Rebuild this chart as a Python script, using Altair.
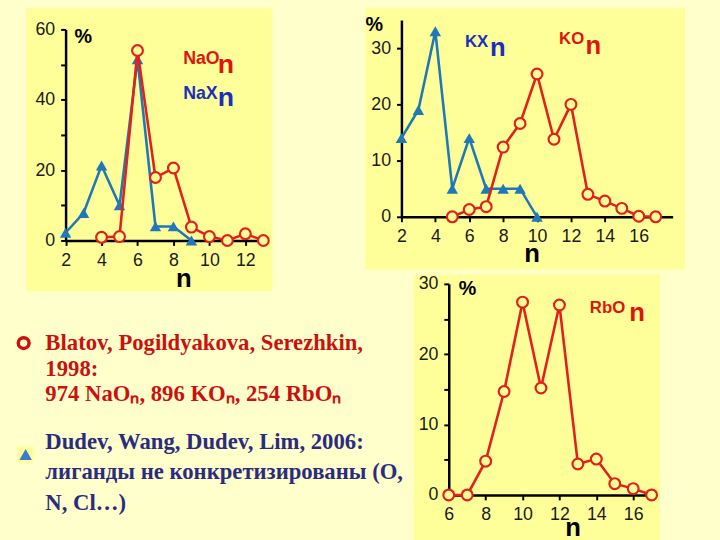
import altair as alt
import pandas as pd

# ---------------- data ----------------
na_o_n = [4, 5, 6, 7, 8, 9, 10, 11, 12, 13]
na_o_pct = [0.9, 1.1, 54.0, 17.9, 20.6, 3.8, 1.1, 0.0, 1.9, 0.0]
na_x_n = [2, 3, 4, 5, 6, 7, 8, 9]
na_x_pct = [2.2, 7.8, 21.3, 10.0, 51.5, 4.0, 4.0, 0.0]

k_o_n = [5, 6, 7, 8, 9, 10, 11, 12, 13, 14, 15, 16, 17]
k_o_pct = [0.0, 1.3, 1.8, 12.4, 16.6, 25.4, 13.8, 20.0, 4.0, 2.8, 1.5, 0.1, 0.0]
k_x_n = [2, 3, 4, 5, 6, 7, 8, 9, 10]
k_x_pct = [14.0, 19.0, 33.0, 5.0, 14.0, 5.0, 5.0, 5.0, 0.0]

rb_o_n = [6, 7, 8, 9, 10, 11, 12, 13, 14, 15, 16, 17]
rb_o_pct = [0.0, 0.0, 4.8, 14.7, 27.4, 15.2, 27.0, 4.4, 5.1, 1.6, 0.9, 0.0]

x_ticks_na = [2, 3, 4, 5, 6, 7, 8, 9, 10, 11, 12, 13]
x_ticks_k = [2, 3, 4, 5, 6, 7, 8, 9, 10, 11, 12, 13, 14, 15, 16, 17]
x_ticks_rb = [6, 7, 8, 9, 10, 11, 12, 13, 14, 15, 16, 17]
y_ticks_na = [0, 10, 20, 30, 40, 50, 60]
y_ticks_k = [0, 5, 10, 15, 20, 25, 30, 35]
y_ticks_rb = [0, 5, 10, 15, 20, 25, 30]

blatov_lines = ["Blatov, Pogildyakova, Serezhkin,",
                "1998:",
                "974 NaOₙ, 896 KOₙ, 254 RbOₙ"]
dudev_lines = ["Dudev, Wang, Dudev, Lim, 2006:",
               "лиганды не конкретизированы (O,",
               "N, Cl…)"]

# ---------------- styles ----------------
PAGE = "#FFFFCC"
PANEL = "#FFFF99"
RED = "#E3201B"
BLUE = "#1F78B8"
RED_TXT = "#E0140F"
BLUE_TXT = "#1A2FC0"
LEG_RED = "#CC1010"
LEG_NAVY = "#2B2B80"
SANS = "Liberation Sans"
SERIF = "Liberation Serif"


def panel_layers(red_n, red_v, blue_n, blue_v, xdom, xrng, ydom, yrng, xticks,
                 yticks, ystep, h, pct_pos, n_pos, labels):
    x_axis = alt.Axis(values=xticks,
                      labelExpr="datum.value % 2 == 0 ? datum.label : ''",
                      offset=-(h - yrng[0]), title="n", titleX=n_pos[0],
                      titleY=n_pos[1], titleFontSize=26)
    y_axis = alt.Axis(values=yticks,
                      labelExpr=f"datum.value % {ystep} == 0 ? datum.label : ''",
                      offset=-xrng[0], title="%", titleX=pct_pos[0],
                      titleY=pct_pos[1], titleFontSize=20, titleAngle=0)
    X = alt.X("n:Q", scale=alt.Scale(domain=xdom, range=xrng), axis=x_axis)
    Y = alt.Y("v:Q", scale=alt.Scale(domain=ydom, range=yrng), axis=y_axis)
    layers = []
    if blue_n is not None:
        bdf = pd.DataFrame({"n": blue_n, "v": blue_v})
        base_b = alt.Chart(bdf).encode(x=X, y=Y)
        layers.append(base_b.mark_line(color=BLUE, strokeWidth=2.6))
        layers.append(base_b.mark_point(shape="triangle-up", filled=True,
                                        color=BLUE, size=135, opacity=1))
    rdf = pd.DataFrame({"n": red_n, "v": red_v})
    base_r = alt.Chart(rdf).encode(x=X, y=Y)
    layers.append(base_r.mark_line(color=RED, strokeWidth=2.6))
    layers.append(base_r.mark_point(shape="circle", filled=True, fill=PANEL,
                                    stroke=RED, strokeWidth=2.2, size=120,
                                    opacity=1))
    for txt, lx, ly, size, color in labels:
        layers.append(
            alt.Chart().mark_text(align="left", baseline="alphabetic",
                                  font=SANS, fontWeight="bold", fontSize=size,
                                  color=color)
            .encode(x=alt.datum(lx), y=alt.datum(ly), text=alt.value(txt))
        )
    return alt.layer(*layers)


VIEW_PANEL = alt.ViewBackground(fill=PANEL, stroke="transparent")


def spacer(w, h, fill=PAGE):
    return alt.Chart(pd.DataFrame({"z": [0]})).mark_point(opacity=0).encode(
        x=alt.value(0), y=alt.value(0)
    ).properties(width=w, height=h,
                 view=alt.ViewBackground(fill=fill, stroke="transparent"))


# ---------------- citation text (drawn below the Na panel) ----------------
cit_df = pd.DataFrame({"para": [0, 1], "txt": [blatov_lines, dudev_lines],
                       "grp": ["blatov", "dudev"]})
PY = alt.Y("para:Q", scale=alt.Scale(domain=[0, 1], range=[347, 447]),
           axis=None)
cit_base = alt.Chart(cit_df).encode(y=PY)
txt_style = dict(align="left", baseline="alphabetic", font=SERIF,
                 fontWeight="bold", fontSize=23)
cit_red = cit_base.transform_filter("datum.grp == 'blatov'").mark_text(
    color=LEG_RED, lineHeight=26, **txt_style).encode(x=alt.value(20),
                                                       text="txt")
cit_navy = cit_base.transform_filter("datum.grp == 'dudev'").mark_text(
    color=LEG_NAVY, lineHeight=31, **txt_style).encode(x=alt.value(20),
                                                        text="txt")
cit_circle = cit_base.transform_filter("datum.grp == 'blatov'").mark_point(
    shape="circle", filled=False, stroke=LEG_RED, strokeWidth=3.5, size=120,
    opacity=1).encode(x=alt.value(-2), yOffset=alt.value(-7))
cit_square = cit_base.transform_filter("datum.grp == 'dudev'").mark_square(
    size=270, color=PANEL, opacity=1).encode(x=alt.value(0),
                                             yOffset=alt.value(6))
cit_tri = cit_base.transform_filter("datum.grp == 'dudev'").mark_point(
    shape="triangle-up", filled=True, color="#3A7BD0", size=160,
    opacity=1).encode(x=alt.value(0), yOffset=alt.value(6))
citations = alt.layer(cit_red, cit_navy, cit_circle, cit_square, cit_tri)

# ---------------- panels ----------------
na_core = panel_layers(
    na_o_n, na_o_pct, na_x_n, na_x_pct,
    [2, 13], [40.5, 241], [0, 60], [236, 22],
    x_ticks_na, y_ticks_na, 20, 287, (17.5, 35), (160, 47),
    [("NaO", 8.54, 50.1, 18, RED_TXT), ("n", 10.46, 47.6, 27, RED_TXT),
     ("NaX", 8.54, 40.3, 18, BLUE_TXT), ("n", 10.46, 38.3, 27, BLUE_TXT)])
p1 = alt.layer(na_core, citations).resolve_scale(
    x="independent", y="independent"
).properties(width=250, height=287, view=VIEW_PANEL)

p2 = panel_layers(
    k_o_n, k_o_pct, k_x_n, k_x_pct,
    [2, 17], [37, 312], [0, 35], [212, 12.5],
    x_ticks_k, y_ticks_k, 10, 265, (-28, 23), (169, 45),
    [("KX", 5.75, 30.2, 17, BLUE_TXT), ("n", 7.22, 28.6, 26, BLUE_TXT),
     ("KO", 11.3, 30.7, 17, RED_TXT), ("n", 12.86, 28.9, 26, RED_TXT)]
).properties(width=324, height=265, view=VIEW_PANEL)

p3 = panel_layers(
    rb_o_n, rb_o_pct, None, None,
    [6, 17], [36, 241.7], [0, 30], [224, 10],
    x_ticks_rb, y_ticks_rb, 10, 275, (18.5, 21), (161.5, 41),
    [("RbO", 13.65, 25.8, 17, RED_TXT), ("n", 15.79, 24.7, 26, RED_TXT)]
).properties(width=250, height=275, view=VIEW_PANEL)

# ---------------- layout ----------------
right_col = alt.vconcat(
    alt.hconcat(p2, spacer(30, 265), spacing=0),
    alt.hconcat(spacer(47, 275, "transparent"), p3, spacing=0),
    spacing=0)

chart = alt.hconcat(
    spacer(22, 287), p1, spacer(94, 265), right_col,
    spacing=0, bounds="flush"
).properties(
    background=PAGE, padding=0
).configure_axis(
    domainColor="black", domainWidth=2.5, tickColor="black", tickWidth=2,
    tickSize=5, labelFont=SANS, labelFontSize=18, labelColor="#1a1a1a",
    labelPadding=6, grid=False, labelFlush=False, labelOverlap=False,
    titleFont=SANS, titleFontWeight="bold", titleColor="black",
    titleBaseline="alphabetic", titleAlign="center"
)

chart.save("out.html", embed_options={"renderer": "svg", "actions": False})
